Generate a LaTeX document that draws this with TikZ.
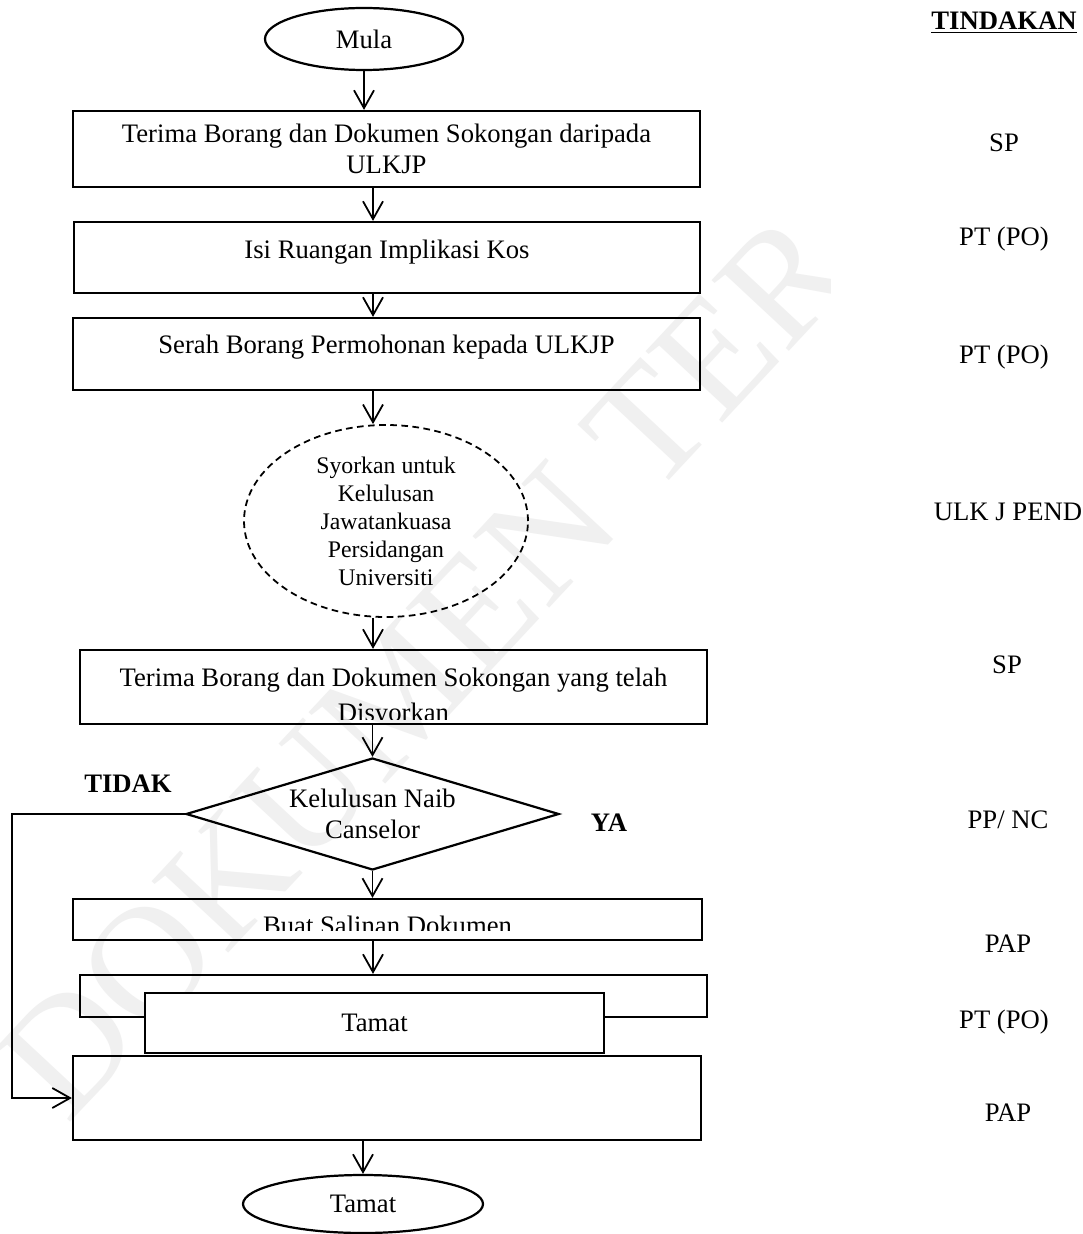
\documentclass[tikz,border=0pt]{standalone}
\usepackage{fontspec}
\setmainfont{Liberation Serif}
\usetikzlibrary{arrows.meta,shapes.geometric,positioning}
\newcommand{\unitpx}{0.45pt}
\tikzset{
 box/.style={draw,line width=1pt,inner sep=0pt,align=center,
             font=\fontsize{12}{13.8}\selectfont},
 term/.style={draw,ellipse,line width=1pt,inner sep=0pt,
             font=\fontsize{12}{13.8}\selectfont},
 arrow/.style={-{Straight Barb[length=8pt,width=9pt]},line width=0.8pt},
 act/.style={font=\fontsize{12}{13.8}\selectfont},
 wmark/.style={text=black!6,inner sep=0pt,font=\fontsize{72}{72}\selectfont},
}

\begin{document}
\begin{tikzpicture}[x=\unitpx,y=-\unitpx]
\path[fill=white,use as bounding box] (0,0) rectangle (1082,1234);
% watermark
\begin{scope}
\clip (0,0) rectangle (830,1234);
\node[wmark,rotate=47,anchor=west] (wm) at (29,1090) {DOKUMEN TER};
\end{scope}

\coordinate (ax) at (373,0);
\coordinate (lp) at (12,0);

\node[term,minimum width=198*\unitpx,minimum height=62*\unitpx] (mula) at (364,39) {Mula};
\node[box,minimum width=627*\unitpx,minimum height=76*\unitpx] (b1) at (386.5,149)
  {Terima Borang dan Dokumen Sokongan daripada\\ULKJP};
\node[box,text depth=7.1pt,minimum width=626*\unitpx,minimum height=71*\unitpx] (b2) at (387,257.5)
  {Isi Ruangan Implikasi Kos};
\node[box,text depth=8.9pt,minimum width=627*\unitpx,minimum height=72*\unitpx] (b3) at (386.5,354)
  {Serah Borang Permohonan kepada ULKJP};
\node[draw,ellipse,dashed,dash pattern=on 3pt off 2pt,line width=0.8pt,inner sep=0pt,
  align=center,font=\fontsize{10.7}{12.6}\selectfont,
  minimum width=284*\unitpx,minimum height=192*\unitpx] (syor) at (386,521)
  {Syorkan untuk\\Kelulusan\\Jawatankuasa\\Persidangan\\Universiti};
\node[box,minimum width=627*\unitpx,minimum height=74*\unitpx,
  path picture={
    \clip ([yshift=5*\unitpx]path picture bounding box.south west)
      rectangle (path picture bounding box.north east);
    \node[align=center,font=\fontsize{12}{15.75}\selectfont] (b5t)
      at ([yshift=-10.5*\unitpx]path picture bounding box.center)
      {Terima Borang dan Dokumen Sokongan yang telah\\Disyorkan};
  }] (b5) at (393.5,687) {};
\node[box,shape=diamond,aspect=3.33,minimum width=373*\unitpx,minimum height=112*\unitpx] (dia) at (372.5,814)
  {Kelulusan Naib\\Canselor};
\node[box,minimum width=629*\unitpx,minimum height=41*\unitpx,
  path picture={
    \clip ([yshift=10*\unitpx]path picture bounding box.south west)
      rectangle (path picture bounding box.north east);
    \node[font=\fontsize{12}{13.8}\selectfont] (b6t)
      at ([yshift=-5.5*\unitpx]path picture bounding box.center) {Buat Salinan Dokumen};
  }] (b6) at (387.5,919.5) {};
\node[box,minimum width=627*\unitpx,minimum height=42*\unitpx] (b7) at (393.5,996) {};
\node[box,fill=white,minimum width=459*\unitpx,minimum height=60*\unitpx] (fin) at (374.5,1023) {Tamat};
\node[box,minimum width=628*\unitpx,minimum height=84*\unitpx] (b8) at (387,1098) {};
\node[term,minimum width=240*\unitpx,minimum height=58*\unitpx] (tamat) at (363,1204) {Tamat};

% decision labels
\node[font=\fontsize{12}{13.8}\selectfont\bfseries] (tidak) at (128,784) {TIDAK};
\node[font=\fontsize{12}{13.8}\selectfont\bfseries] (ya) at (609,823) {YA};

% connectors
\draw[arrow] (mula) -- (mula |- b1.north);
\draw[arrow] (b1.south -| ax) -- (b2.north -| ax);
\draw[arrow] (b2.south -| ax) -- (b3.north -| ax);
\draw[arrow] (b3.south -| ax) -- (syor.north -| ax);
\draw[arrow] (syor.south -| ax) -- (b5.north -| ax);
\draw[arrow] (b5.south -| dia.north) -- (dia.north);
\draw[arrow] (dia.south) -- (dia.south |- b6.north);
\draw[arrow] (b6.south -| ax) -- (b7.north -| ax);
\draw[arrow] (b8.south -| tamat.north) -- (tamat.north);
\draw[arrow] (dia.west) -- (dia.west -| lp) |- (b8.west);

% action column
\node[act] (h) at (1004,22.5) {\underline{\textbf{TINDAKAN}}};
\node[act] (a1) at (1004,143) {SP};
\node[act] (a2) at (1004,239) {PT (PO)};
\node[act] (a3) at (1004,357) {PT (PO)};
\node[act] (a4) at (1008,512) {ULK J PEND};
\node[act] (a5) at (1007,665) {SP};
\node[act] (a6) at (1008,820) {PP/ NC};
\node[act] (a7) at (1008,944) {PAP};
\node[act] (a8) at (1004,1022) {PT (PO)};
\node[act] (a9) at (1008,1113) {PAP};
\end{tikzpicture}
\end{document}
